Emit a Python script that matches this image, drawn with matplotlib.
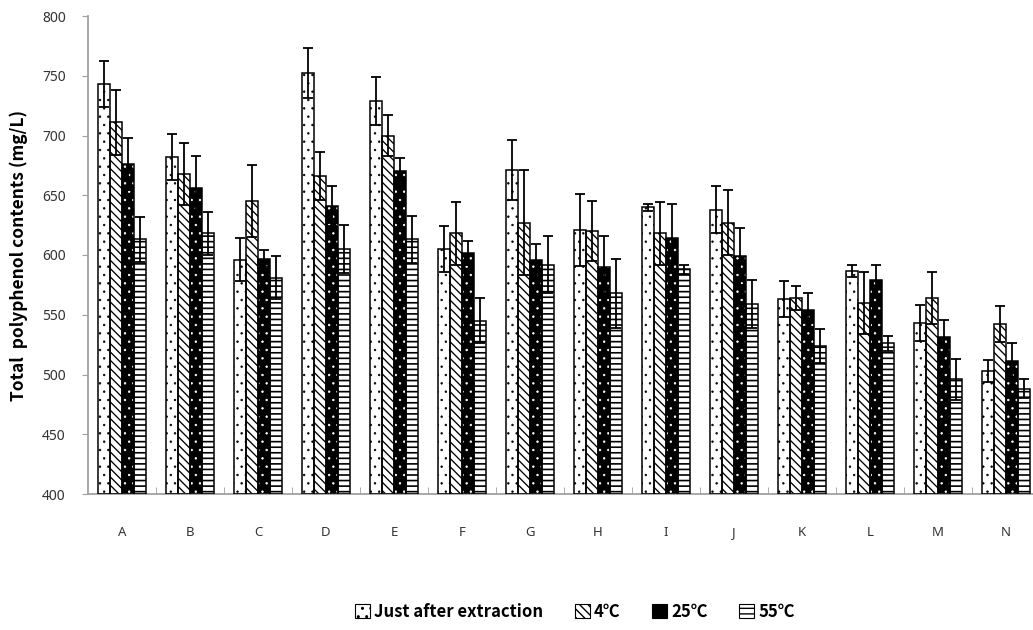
import numpy as np
import matplotlib
matplotlib.use("Agg")
import matplotlib.pyplot as plt
from matplotlib.patches import Patch

samples = ["A", "B", "C", "D", "E", "F", "G", "H", "I", "J", "K", "L", "M", "N"]
series_names = ["Just after extraction", "4\u2103", "25\u2103", "55\u2103"]

just_after = [743, 682, 596, 752, 729, 605, 671, 621, 640, 638, 563, 587, 543, 503]
just_after_err = [19, 19, 18, 21, 20, 19, 25, 30, 3, 20, 15, 5, 15, 9]
c4 = [711, 668, 645, 666, 700, 618, 627, 620, 618, 627, 564, 560, 564, 542]
c4_err = [27, 26, 30, 20, 17, 26, 44, 25, 26, 27, 10, 26, 22, 15]
c25 = [676, 656, 597, 641, 670, 602, 596, 590, 614, 599, 554, 579, 531, 511]
c25_err = [22, 27, 7, 17, 11, 10, 13, 26, 29, 24, 14, 13, 15, 15]
c55 = [613, 618, 581, 605, 613, 545, 592, 568, 588, 559, 524, 526, 496, 488]
c55_err = [19, 18, 18, 20, 20, 19, 24, 29, 4, 20, 14, 6, 17, 8]

values = [just_after, c4, c25, c55]
errors = [just_after_err, c4_err, c25_err, c55_err]
# (face, hatch, hatch colour, hatch linewidth)
styles = [("white", "..", "black", 0.5),
          ("white", "\\\\\\\\", "black", 0.95),
          ("black", "..", "white", 0.5),
          ("white", "---", "black", 1.2)]

fig = plt.figure(figsize=(10.33, 6.30), dpi=100)
ax = fig.add_axes([88 / 1033, 1 - 494 / 630, (1040 - 88) / 1033, 478 / 630])

centers = np.arange(len(samples)) + 0.5
width = 0.18
grey = "#a0a0a0"

for k in range(4):
    x = centers + (k - 1.5) * width
    face, hatch, hcol, hlw = styles[k]
    base = 400
    heights = np.array(values[k]) - base
    # hatch layer
    with plt.rc_context({"hatch.linewidth": hlw}):
        bars = ax.bar(x, heights, width, bottom=base, color=face, edgecolor=hcol,
                      hatch=hatch, linewidth=0, zorder=2)
    for b in bars:
        if hasattr(b, "set_hatch_linewidth"):
            b.set_hatch_linewidth(hlw)
    # outline
    ax.bar(x, heights, width, bottom=base, fill=False, edgecolor="black",
           linewidth=1.1, zorder=3)
    ax.errorbar(x, values[k], yerr=errors[k], fmt="none", ecolor="black",
                elinewidth=1.3, capsize=3.5, capthick=1.3, zorder=4)

ax.set_xlim(0, 14)
ax.set_ylim(400, 800)
ax.set_yticks(np.arange(400, 801, 50))
ax.set_xticks(centers)
ax.set_xticklabels(samples)
ax.set_xticks(np.arange(1, 14), minor=True)
ax.tick_params(axis="x", which="major", length=0, pad=23, labelsize=9.5,
               labelcolor="#333333")
ax.tick_params(axis="x", which="minor", direction="in", length=5, color=grey)
ax.tick_params(axis="y", direction="out", length=4, color=grey, labelsize=10,
               labelcolor="#333333", pad=12)
for lab in ax.get_xticklabels() + ax.get_yticklabels():
    lab.set_family("Noto Sans")

for s in ["top", "right"]:
    ax.spines[s].set_visible(False)
ax.spines["left"].set_color(grey)
ax.spines["bottom"].set_color(grey)
ax.spines["left"].set_linewidth(1.3)
ax.spines["bottom"].set_linewidth(1.3)

ax.set_ylabel("Total  polyphenol contents (mg/L)", fontsize=12.5,
              fontweight="bold", family=["Noto Sans CJK KR", "DejaVu Sans"],
              labelpad=10)

handles = []
for k in range(4):
    face, hatch, hcol, hlw = styles[k]
    handles.append(Patch(facecolor=face, edgecolor="black", hatch=hatch,
                         linewidth=0.8))
leg = fig.legend(handles, series_names, loc="center",
                 bbox_to_anchor=(575 / 1033, 1 - 612 / 630), ncol=4,
                 frameon=False, handlelength=0.9, handleheight=0.9,
                 handletextpad=0.25, columnspacing=1.9,
                 prop={"family": ["Noto Sans CJK KR", "DejaVu Sans"],
                       "weight": "bold", "size": 12})

fig.savefig("out.png", dpi=100)
